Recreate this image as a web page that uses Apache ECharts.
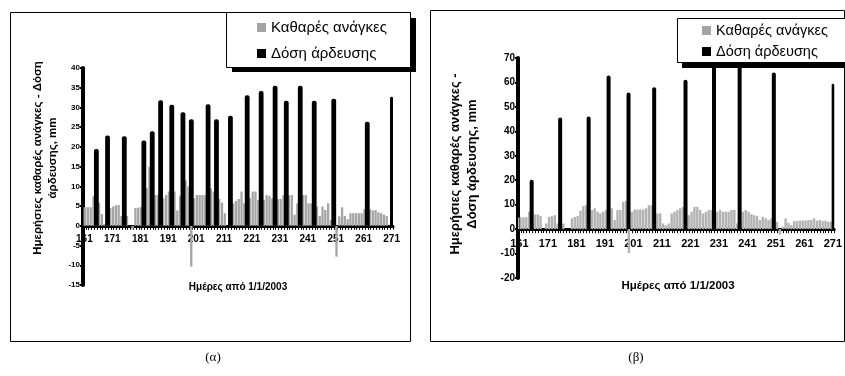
<!DOCTYPE html>
<html>
<head>
<meta charset="utf-8">
<script src="https://cdn.jsdelivr.net/npm/echarts@6/dist/echarts.min.js"></script>
<style>
  html, body { margin: 0; padding: 0; background: #fff; }
  #chart { width: 845px; height: 376px; }
</style>
</head>
<body>
<div id="chart"></div>
<script>
// Days since 1/1/2003 shown on the category axis
const FIRST_DAY = 161, LAST_DAY = 271;
const days = [];
for (let d = FIRST_DAY; d <= LAST_DAY; d++) days.push(String(d));

// Panel (α): daily net irrigation needs, mm (one value per day 161..271)
const netNeedsA = [
  4.7, 4.7, 4.7, 4.7, 7.5, 4.3, 5.8, 3.0, 0.5, 2.5,
  4.5, 4.9, 5.2, 5.3, 2.5, 4.7, 2.5, 0, -0.8, 4.5,
  4.6, 4.8, 8.7, 9.5, 15, 8, 7.8, 7.8, 7.6, 7.0,
  7.8, 8.7, 8.7, 8.7, 3.9, 7.6, 7.8, 11.5, 10, -10.3,
  7, 7.8, 7.8, 7.8, 7.8, 8.7, 9.5, 8.7, 6.8, 6.8,
  5.9, 3.2, 0, 2.4, 5.7, 6.3, 6.8, 8.7, 5.7, 5.3,
  7.0, 8.7, 8.7, 6.6, 5.9, 6.6, 7.8, 7.6, 7.0, 7.8,
  6.8, 6.8, 7.8, 7.8, 7.8, 7.8, 2.8, 5.7, 7.8, 7.8,
  7.8, 5.7, 5.7, 4.9, 4.9, 2.5, 4.9, 4.0, 5.7, 1.5,
  3.2, -7.8, 2.4, 4.7, 2.5, 1.7, 3.2, 3.2, 3.2, 3.2,
  3.2, 4.2, 4.7, 4.2, 3.9, 4.0, 3.4, 3.2, 2.8, 2.5,
  0
];
// Panel (α): irrigation events
const doseDaysA = [165, 169, 175, 182, 185, 188, 192, 196, 199, 205, 208, 213, 219, 224, 229, 233, 238, 243, 250, 262, 271];
const doseValuesA = [19.5, 22.9, 22.7, 21.6, 24, 31.8, 30.7, 28.8, 27, 30.8, 27, 27.9, 33.1, 34.2, 35.5, 31.7, 35.5, 31.7, 32.2, 26.4, 32.7];

// Panel (β): daily net irrigation needs, mm
const netNeedsB = [
  4.8, 4.8, 4.8, 4.8, 7.1, 3.7, 6.0, 6.0, 5.3, 0,
  2.3, 5.0, 5.3, 5.7, 2.3, 5.0, 2.3, 0, 0, 4.4,
  5.0, 5.3, 7.5, 9.4, 9.8, 15.3, 7.8, 8.5, 7.1, 6.4,
  7.1, 7.8, 8.5, 8.5, 3.7, 7.8, 7.8, 11.2, 11.5, -9.8,
  7.1, 8.0, 8.0, 8.0, 8.0, 8.5, 9.8, 9.8, 7.1, 6.4,
  6.4, 2.3, 1.6, 2.3, 6.4, 7.1, 7.8, 8.5, 9.1, 5.7,
  5.7, 7.1, 9.1, 9.1, 7.8, 6.4, 7.1, 7.8, 7.8, 7.8,
  7.1, 7.8, 7.1, 7.1, 7.1, 7.8, 7.8, 2.3, 5.7, 7.1,
  7.8, 7.1, 6.1, 5.7, 5.3, 3.7, 5.0, 4.4, 3.7, 4.4,
  3.0, 3.0, -2.3, 1.0, 4.4, 2.6, 1.6, 3.3, 3.3, 3.5,
  3.5, 3.5, 3.7, 3.7, 4.4, 3.5, 3.7, 3.3, 3.5, 3.0,
  3.0
];
// Panel (β): irrigation events
const doseDaysB = [165, 175, 185, 192, 199, 208, 219, 229, 238, 250, 271];
const doseValuesB = [20.2, 45.7, 46.1, 62.8, 55.9, 58, 61.1, 68, 68, 64.1, 59.5];

// Value-axis ranges
const yRangeA = [-15, 40], yStepA = 5;
const yRangeB = [-20, 70], yStepB = 10;

const NAME_NET = 'Καθαρές ανάγκες';
const NAME_DOSE = 'Δόση άρδευσης';
const FONT = '"Liberation Sans", Arial, sans-serif';

// Plot boxes (pixels)
const gridA = { left: 83, right: 452, top: 68, bottom: 91 };
const gridB = { left: 518, right: 10, top: 58, bottom: 98 };

// Spread sparse irrigation events over the day axis
function doseSeries(dDays, dVals) {
  const out = days.map(() => '-');
  dDays.forEach((d, k) => { out[d - FIRST_DAY] = dVals[k]; });
  return out;
}

// The day axis sits on the zero line: shift it up from the plot bottom
function zeroOffset(grid, range) {
  const h = 376 - grid.top - grid.bottom;
  return -h * (0 - range[0]) / (range[1] - range[0]);
}

function xAxisFor(gi, grid, range, fontSize, margin) {
  return {
    type: 'category', gridIndex: gi, data: days, position: 'bottom',
    offset: zeroOffset(grid, range),
    axisLine: { onZero: false, lineStyle: { color: '#000', width: 3 } },
    axisTick: { show: true, interval: 0, length: 4, lineStyle: { color: '#000', width: 1 } },
    axisLabel: { interval: 9, fontSize: fontSize, fontWeight: 'bold', color: '#000', margin: margin, fontFamily: FONT },
    splitLine: { show: false }
  };
}
function yAxisFor(gi, range, step, fontSize) {
  return {
    type: 'value', gridIndex: gi, min: range[0], max: range[1], interval: step,
    axisLine: { show: true, lineStyle: { color: '#000', width: 4 } },
    axisTick: { show: true, length: 3, lineStyle: { color: '#000', width: 2 } },
    axisLabel: { fontSize: fontSize, fontWeight: 'bold', color: '#000', margin: 3, fontFamily: FONT },
    splitLine: { show: false }
  };
}
function legendFor(left, top, fontSize, gap) {
  return {
    left: left, top: top, orient: 'vertical', z: 60,
    itemWidth: 9, itemHeight: 9, itemGap: gap, icon: 'rect',
    data: [NAME_NET, NAME_DOSE],
    textStyle: { fontSize: fontSize, color: '#000', fontFamily: FONT },
    padding: 0, selectedMode: false
  };
}

const chart = echarts.init(document.getElementById('chart'), null, { renderer: 'canvas' });

chart.setOption({
  animation: false,
  backgroundColor: '#fff',
  grid: [gridA, gridB],
  xAxis: [xAxisFor(0, gridA, yRangeA, 10, 8), xAxisFor(1, gridB, yRangeB, 11, 9)],
  yAxis: [yAxisFor(0, yRangeA, yStepA, 8), yAxisFor(1, yRangeB, yStepB, 10)],
  legend: [legendFor(257, 20, 15, 11), legendFor(702, 23, 14.5, 6)],
  series: [
    { name: NAME_NET, type: 'bar', xAxisIndex: 0, yAxisIndex: 0, data: netNeedsA,
      barWidth: 2.3, barGap: '-30%', itemStyle: { color: '#a4a4a4' } },
    { name: NAME_DOSE, type: 'bar', xAxisIndex: 0, yAxisIndex: 0, data: doseSeries(doseDaysA, doseValuesA),
      barWidth: 4.8, barGap: '-30%', itemStyle: { color: '#000', borderRadius: [2, 2, 0, 0] } },
    { name: NAME_NET, type: 'bar', xAxisIndex: 1, yAxisIndex: 1, data: netNeedsB,
      barWidth: 2.4, barGap: '-30%', itemStyle: { color: '#b2b2b2' } },
    { name: NAME_DOSE, type: 'bar', xAxisIndex: 1, yAxisIndex: 1, data: doseSeries(doseDaysB, doseValuesB),
      barWidth: 4, barGap: '-30%', itemStyle: { color: '#000', borderRadius: [2, 2, 0, 0] } }
  ],
  graphic: [
    // panel frames
    { type: 'rect', shape: { x: 10.5, y: 12.5, width: 400, height: 329 }, style: { fill: null, stroke: '#000', lineWidth: 1 }, z: 1 },
    { type: 'rect', shape: { x: 430.5, y: 10.5, width: 414, height: 331 }, style: { fill: null, stroke: '#000', lineWidth: 1 }, z: 1 },
    // legend boxes with offset shadows
    { type: 'rect', shape: { x: 232, y: 18, width: 184, height: 54 }, style: { fill: '#000' }, z: 50 },
    { type: 'rect', shape: { x: 226.5, y: 12.5, width: 184, height: 55 }, style: { fill: '#fff', stroke: '#000', lineWidth: 1 }, z: 51 },
    { type: 'rect', shape: { x: 682, y: 24, width: 170, height: 44 }, style: { fill: '#000' }, z: 50 },
    { type: 'rect', shape: { x: 677.5, y: 18.5, width: 170, height: 44 }, style: { fill: '#fff', stroke: '#000', lineWidth: 1 }, z: 51 },
    // axis titles
    { type: 'text', x: 45.5, y: 158, rotation: Math.PI / 2, z: 5,
      style: { text: 'Ημερήσιες καθαρές ανάγκες - Δόση\nάρδευσης, mm', font: 'bold 11.5px ' + FONT,
               fill: '#000', align: 'center', verticalAlign: 'middle', lineHeight: 15 } },
    { type: 'text', x: 238, y: 287, z: 5,
      style: { text: 'Ημέρες από 1/1/2003', font: 'bold 10px ' + FONT, fill: '#000', align: 'center', verticalAlign: 'middle' } },
    { type: 'text', x: 463.5, y: 164, rotation: Math.PI / 2, z: 5,
      style: { text: 'Ημερήσιες καθαρές ανάγκες -\nΔόση άρδευσης, mm', font: 'bold 13px ' + FONT,
               fill: '#000', align: 'center', verticalAlign: 'middle', lineHeight: 17 } },
    { type: 'text', x: 678, y: 286, z: 5,
      style: { text: 'Ημέρες από 1/1/2003', font: 'bold 11.5px ' + FONT, fill: '#000', align: 'center', verticalAlign: 'middle' } },
    // panel captions
    { type: 'text', x: 213, y: 358, z: 5,
      style: { text: '(α)', font: '13px "Liberation Serif", "Times New Roman", serif', fill: '#000', align: 'center', verticalAlign: 'middle' } },
    { type: 'text', x: 636, y: 358, z: 5,
      style: { text: '(β)', font: '13px "Liberation Serif", "Times New Roman", serif', fill: '#000', align: 'center', verticalAlign: 'middle' } }
  ]
});
</script>
</body>
</html>
